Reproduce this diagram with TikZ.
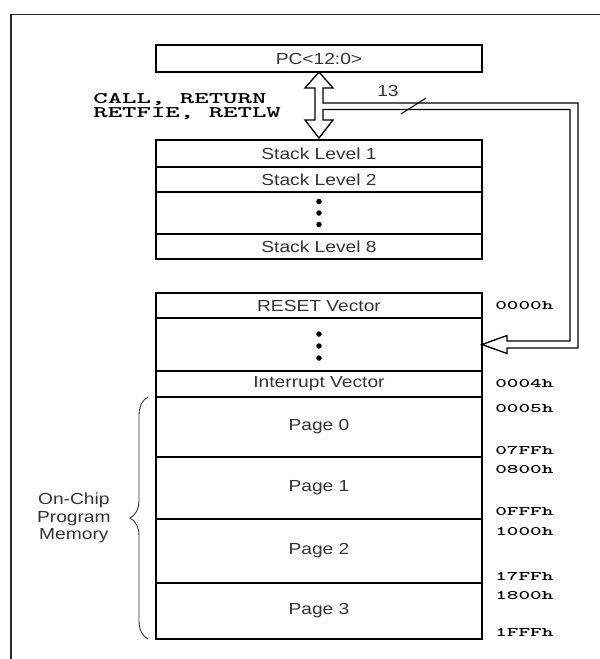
\documentclass[tikz,border=0pt]{standalone}
\usepackage{fontspec}
\setmainfont{Liberation Sans}[FakeStretch=1.2]
\newfontfamily\addrfont{lmmonolt10-bold.otf}[FakeStretch=1.7]
\usetikzlibrary{positioning, calc, decorations.pathreplacing}
\definecolor{inkgray}{RGB}{50, 50, 50}
\definecolor{framegray}{RGB}{40, 40, 40}

\tikzset{
  cell/.style={draw, line width=0.8pt, minimum width=6.52cm, inner sep=0pt, outer sep=0pt,
    font=\fontsize{9.1}{11}\selectfont, text=inkgray},
  addr/.style={anchor=west, inner sep=0pt, font=\addrfont\fontsize{7.4}{8}\selectfont},
  bus/.style={line width=0.75pt, line join=miter},
  dot/.style={fill=black},
}

\begin{document}
\begin{tikzpicture}
  \useasboundingbox (0,0) rectangle (12,-13.18);

  % frame
  \draw[line width=1.1pt, framegray] (0.22,-13.18) -- (0.22,-0.29) -- (12,-0.29);

  % program counter
  \node[cell, minimum height=0.54cm] (pc) at (6.38,-1.17) {PC<12:0>};

  % stack
  \node[cell, minimum height=0.54cm, anchor=north] (lvl1) at (6.38,-2.8) {Stack Level 1};
  \node[cell, minimum height=0.5cm, below=0pt of lvl1] (lvl2) {Stack Level 2};
  \node[cell, minimum height=0.84cm, below=0pt of lvl2] (lvldots) {};
  \node[cell, minimum height=0.5cm, below=0pt of lvldots] (lvl8) {Stack Level 8};

  \fill[dot] ($(lvldots)+(0,0.23)$) circle (0.055);
  \fill[dot] (lvldots) circle (0.055);
  \fill[dot] ($(lvldots)+(0,-0.23)$) circle (0.055);

  % program memory
  \node[cell, minimum height=0.5cm, anchor=north] (reset) at (6.38,-5.86) {RESET Vector};
  \node[cell, minimum height=1.06cm, below=0pt of reset] (vecdots) {};
  \node[cell, minimum height=0.52cm, below=0pt of vecdots] (intvec) {Interrupt Vector};
  \node[cell, minimum height=1.2cm, below=0pt of intvec] (page0) {Page 0};
  \node[cell, minimum height=1.24cm, below=0pt of page0] (page1) {Page 1};
  \node[cell, minimum height=1.28cm, below=0pt of page1] (page2) {Page 2};
  \node[cell, minimum height=1.12cm, below=0pt of page2] (page3) {Page 3};

  \fill[dot] ($(vecdots)+(0,0.21)$) circle (0.055);
  \fill[dot] ($(vecdots)+(0,-0.03)$) circle (0.055);
  \fill[dot] ($(vecdots)+(0,-0.27)$) circle (0.055);

  % addresses
  \node[addr] (a0000) at ($(reset.east)+(0.26,0)$) {0000h};
  \node[addr] (a0004) at ($(intvec.east)+(0.26,0)$) {0004h};
  \node[addr] (a0005) at ($(page0.north east)+(0.26,-0.24)$) {0005h};
  \node[addr] (a07ff) at ($(page0.south east)+(0.26,0.14)$) {07FFh};
  \node[addr] (a0800) at ($(page1.north east)+(0.26,-0.26)$) {0800h};
  \node[addr] (a0fff) at ($(page1.south east)+(0.26,0.14)$) {0FFFh};
  \node[addr] (a1000) at ($(page2.north east)+(0.26,-0.26)$) {1000h};
  \node[addr] (a17ff) at ($(page2.south east)+(0.26,0.14)$) {17FFh};
  \node[addr] (a1800) at ($(page3.north east)+(0.26,-0.26)$) {1800h};
  \node[addr] (a1fff) at ($(page3.south east)+(0.26,0.14)$) {1FFFh};

  % push/pop arrow and 13-bit bus to the reset vector
  \draw[bus] (pc.south) -- ++(0.28,-0.32) -- ++(-0.2,0) -- ++(0,-0.3) -- ++(5.1,0)
    -- ++(0,-4.9) -- ++(-1.42,0) -- ++(0,-0.11) -- (vecdots.east) -- ++(0.5,0.18)
    -- ++(0,-0.11) -- ++(1.26,0) -- ++(0,4.63) -- ++(-4.94,0) -- ++(0,-0.21)
    -- ++(0.2,0) -- ++(-0.28,-0.36) -- ++(-0.28,0.36) -- ++(0.2,0) -- ++(0,0.64)
    -- ++(-0.2,0) -- cycle;
  \draw[line width=0.6pt] (8.02,-2.28) -- ++(0.5,0.32);
  \node[font=\fontsize{9.1}{11}\selectfont, text=inkgray] (buswidth) at (7.76,-1.82) {13};

  \node[anchor=west, align=left, inner sep=0pt,
    font=\addrfont\fontsize{9.2}{8}\selectfont] (stackops) at (1.86,-2.13)
    {CALL, RETURN\\RETFIE, RETLW};

  % on-chip memory brace
  \draw[decorate, decoration={brace, amplitude=0.36cm}, line width=0.5pt, inkgray]
    ($(page3.south west)+(-0.16,0)$) -- ($(page0.north west)+(-0.16,0)$);
  \coordinate (bracetip) at ($(page0.north west)!0.5!(page3.south west)+(-0.52,0)$);
  \node[left=0.38cm of bracetip, align=center, inner sep=0pt, text=inkgray,
    font=\fontsize{9.1}{9.9}\selectfont] (memlabel) {On-Chip\\Program\\Memory};
\end{tikzpicture}
\end{document}
